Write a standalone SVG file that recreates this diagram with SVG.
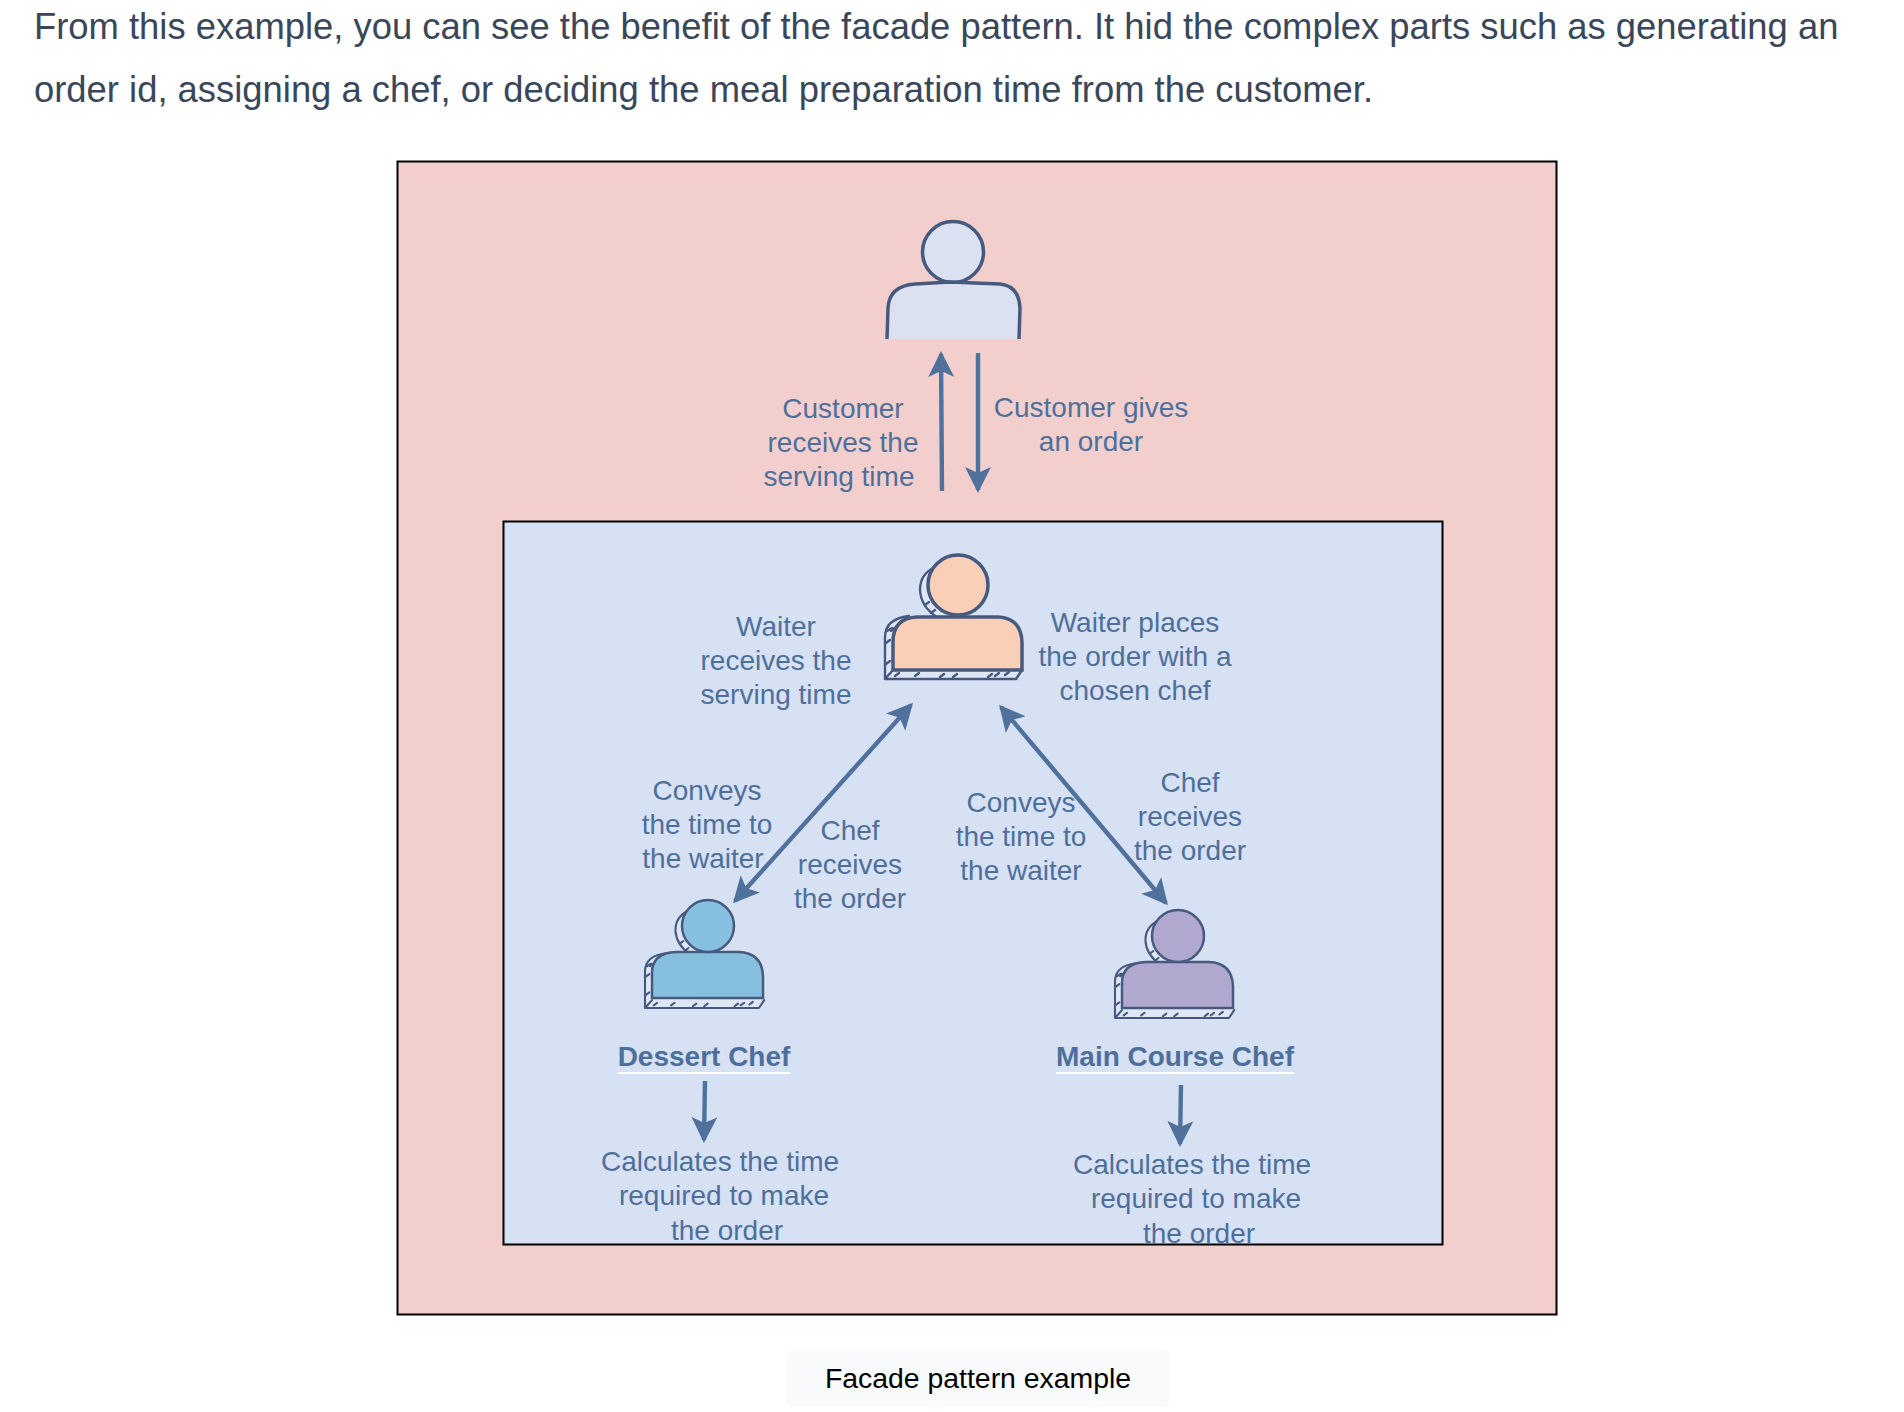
<svg xmlns="http://www.w3.org/2000/svg" width="1904" height="1412" viewBox="0 0 1904 1412">
<style>
.p{font:36.400px "Liberation Sans",Arial,sans-serif;fill:#3a4659}
.l{font:28px "Liberation Sans",Arial,sans-serif;fill:#4f6f9b;text-anchor:middle}
.b{font:bold 28px "Liberation Sans",Arial,sans-serif;fill:#4f6f9b;text-anchor:middle}
.a{fill:none;stroke:#4f719c;stroke-width:4.400}
.h{fill:none;stroke:#465a7f;stroke-width:2.400;stroke-linejoin:round;stroke-linecap:round}
</style>
<defs>
<marker id="ah" viewBox="0 0 26 26" refX="23" refY="13" markerWidth="26" markerHeight="26" markerUnits="userSpaceOnUse" orient="auto-start-reverse"><path d="M0 0L26 13L0 26L6 13Z" fill="#4f719c"/></marker>
<g id="shell">
<path d="M0 0V-42Q0 -60 24 -63H60V-10H137L131 0Z" fill="#dfe7f5"/>
<path d="M50 -112Q35 -105 35 -89Q36 -72 52 -62H70V-112Z" fill="#dfe7f5"/>
<path class="h" d="M0 0V-42Q0 -60 24 -63M0 0H131L137 -9M0 0L8 -9M6 -48Q12 -54 22 -56"/>
<path class="h" d="M50 -112Q35 -105 35 -89Q36 -72 52 -62"/>
<path class="h" d="M1 -36l4 -3M1 -15l4 -3M2 -48l5 -3M10 -3l4 -3M30 -3l4 -3M55 -2l4 -3M68 -2l4 -3M103 -2l4 -3M110 -3l4 -3M120 -4l4 -3M40 -74l4 -3M46 -66l4 -3M9 -28l3 -3"/>
</g>
</defs>
<rect width="1904" height="1412" fill="#fff"/>
<text class="p" x="34" y="39">From this example, you can see the benefit of the facade pattern. It hid the complex parts such as generating an</text>
<text class="p" x="34" y="102">order id, assigning a chef, or deciding the meal preparation time from the customer.</text>
<rect x="397.500" y="161.500" width="1159" height="1153" fill="#f2cfcd" stroke="#000" stroke-width="2"/>
<rect x="503.500" y="521.500" width="939" height="723" fill="#d6e1f3" stroke="#000" stroke-width="2"/>

<g id="customer">
<circle cx="953" cy="252" r="30.500" fill="#dce1f2" stroke="#465a7f" stroke-width="3.500"/>
<path d="M888 339V308Q888 286 915 284H995Q1020 286 1020 308V339Z" fill="#dce1f2"/>
<path d="M887 339L888 308Q889 286 915 284L950 282L1000 284Q1019 286 1020 308L1019 339" fill="none" stroke="#465a7f" stroke-width="3.500"/>
</g>

<g id="waiter">
<use href="#shell" transform="translate(885,679)"/>
<path d="M893 670V642Q893 618 917 617H998Q1021 618 1022 642V670Z" fill="#f9cfb7" stroke="#465a7f" stroke-width="3.500"/>
<circle cx="958" cy="585" r="30" fill="#f9cfb7" stroke="#465a7f" stroke-width="3.500"/>
</g>

<g id="dessert-chef">
<use href="#shell" transform="translate(645,1008) scale(0.87)"/>
<path d="M652 998V973Q652 953 676 952H739Q762 953 763 976V998Z" fill="#86c0de" stroke="#465a7f" stroke-width="2.500"/>
<ellipse cx="708" cy="926" rx="26" ry="26" fill="#86c0de" stroke="#465a7f" stroke-width="2.500"/>
</g>

<g id="main-chef">
<use href="#shell" transform="translate(1115,1018) scale(0.87)"/>
<path d="M1122 1008V983Q1122 963 1146 962H1209Q1232 963 1233 986V1008Z" fill="#b0a8cf" stroke="#465a7f" stroke-width="2.500"/>
<ellipse cx="1178" cy="936" rx="26" ry="26" fill="#b0a8cf" stroke="#465a7f" stroke-width="2.500"/>
</g>

<g id="connectors" class="a">
<path d="M942 491L941 354" marker-end="url(#ah)"/>
<path d="M978 353V490" marker-end="url(#ah)"/>
<path d="M911 705L735 901" marker-start="url(#ah)" marker-end="url(#ah)"/>
<path d="M1001 707L1166 903" marker-start="url(#ah)" marker-end="url(#ah)"/>
<path d="M705 1081L704 1140" marker-end="url(#ah)"/>
<path d="M1181 1085L1180 1144" marker-end="url(#ah)"/>
</g>

<g id="labels">
<text class="l" x="843" y="418">Customer</text><text class="l" x="843" y="452">receives the</text><text class="l" x="839" y="486">serving time</text>
<text class="l" x="1091" y="417">Customer gives</text><text class="l" x="1091" y="451">an order</text>
<text class="l" x="776" y="636">Waiter</text><text class="l" x="776" y="670">receives the</text><text class="l" x="776" y="704">serving time</text>
<text class="l" x="1135" y="632">Waiter places</text><text class="l" x="1135" y="666">the order with a</text><text class="l" x="1135" y="700">chosen chef</text>
<text class="l" x="707" y="800">Conveys</text><text class="l" x="707" y="834">the time to</text><text class="l" x="703" y="868">the waiter</text>
<text class="l" x="850" y="840">Chef</text><text class="l" x="850" y="874">receives</text><text class="l" x="850" y="908">the order</text>
<text class="l" x="1021" y="812">Conveys</text><text class="l" x="1021" y="846">the time to</text><text class="l" x="1021" y="880">the waiter</text>
<text class="l" x="1190" y="792">Chef</text><text class="l" x="1190" y="826">receives</text><text class="l" x="1190" y="860">the order</text>
<text class="b" x="704" y="1066">Dessert Chef</text><rect x="618" y="1072" width="172" height="2" fill="#fff"/>
<text class="b" x="1175" y="1066">Main Course Chef</text><rect x="1056" y="1072" width="238" height="2" fill="#fff"/>
<text class="l" x="720" y="1171">Calculates the time</text><text class="l" x="724" y="1205">required to make</text><text class="l" x="727" y="1240">the order</text>
<text class="l" x="1192" y="1174">Calculates the time</text><text class="l" x="1196" y="1208">required to make</text><text class="l" x="1199" y="1243">the order</text>
</g>

<g id="caption">
<rect x="786" y="1349" width="384" height="58" rx="8" fill="#f9fafb"/>
<text x="978" y="1388" style="font:28.400px 'Liberation Sans',Arial,sans-serif;text-anchor:middle;fill:#000">Facade pattern example</text>
</g>
</svg>
